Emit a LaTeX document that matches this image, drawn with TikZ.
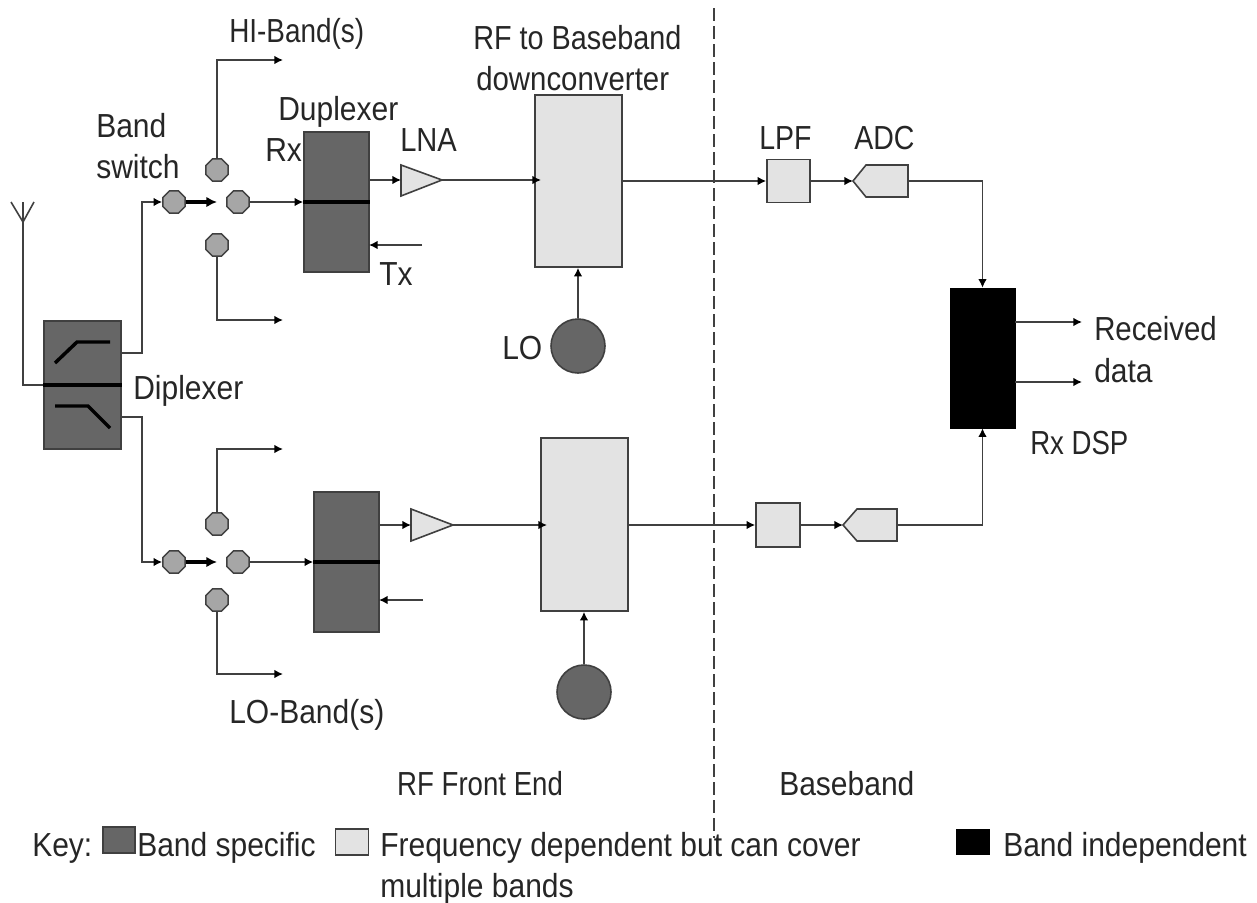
\documentclass[tikz,border=0pt]{standalone}
\usepackage{fontspec}
\setmainfont[FakeStretch=0.9]{Liberation Sans}
\usetikzlibrary{arrows.meta,shapes.geometric}
\definecolor{dk}{gray}{0.40}
\definecolor{lt}{gray}{0.89}
\definecolor{md}{gray}{0.65}
\definecolor{ln}{gray}{0.25}
\tikzset{
 x=0.75pt,y=-0.75pt,
 wire/.style={draw=ln,line width=1.2pt},
 arr/.style={wire,-{Latex[length=6.5pt,width=6.5pt,black]}},
 thickarr/.style={draw=black,line width=2.6pt,-{Latex[length=8pt,width=8pt]}},
 block/.style={draw=ln,line width=1.2pt,inner sep=0pt},
 dkbox/.style={block,fill=dk},
 ltbox/.style={block,fill=lt},
 tri/.style={draw=ln,line width=1.2pt,fill=lt},
 sw/.style={draw=ln,line width=1.1pt,fill=md,regular polygon,regular polygon sides=8,minimum size=18pt,inner sep=0pt},
 mid/.style={draw=black,line width=2.6pt},
 curve/.style={draw=black,line width=2.6pt},
 lo/.style={draw=ln,line width=1.2pt,fill=dk,circle,minimum size=40.5pt,inner sep=0pt},
 lab/.style={font=\fontsize{25}{30}\selectfont,text=black!85,inner sep=0pt,anchor=base west,align=left},
}
\begin{document}
\begin{tikzpicture}
\useasboundingbox (0,0) rectangle (1257,903);
% dashed divider
\coordinate (dt) at (714,8); \coordinate (db) at (714,838);
\draw[draw=ln,line width=1pt,dash pattern=on 10pt off 3.5pt] (dt) -- (db);
% diplexer
\node[dkbox,minimum width=57.75pt,minimum height=96pt] (dip) at (82.5,385) {};
\coordinate (ant) at (23,222);
\coordinate (antL) at (11,202); \coordinate (antR) at (34,202); \coordinate (antM) at (23,202);
\draw[wire] (antL) -- (ant) -- (antR) (antM) -- (ant);
\draw[wire] (ant) |- (dip.west);
\draw[mid] (dip.west) -- (dip.east);
\draw[curve] (55,363) -- (77,342) -- (110,342);
\draw[curve] (55,406) -- (88,406) -- (110,428);
% upper chain
\node[sw] (s1i) at (174,202) {};
\node[sw] (s1o) at (238,202) {};
\node[sw] (s1t) at (217,170) {};
\node[sw] (s1b) at (217,245) {};
\coordinate (s1g) at (217,202);
\coordinate (h1) at (283,60); \coordinate (h2) at (283,320);
\draw[arr] (121,353) -| (142,202) -- (s1i.west);
\draw[thickarr] (s1i.east) -- (s1g);
\draw[arr] (s1t.north) |- (h1);
\draw[arr] (s1b.south) |- (h2);
\node[dkbox,minimum width=48.75pt,minimum height=105pt] (dup1) at (336.5,202) {};
\draw[arr] (s1o.east) -- (dup1.west);
\draw[mid] (dup1.west) -- (dup1.east);
\coordinate (tx1) at (422,245);
\draw[arr] (tx1) -- (369,245);
\coordinate (lna1i) at (401,180); \coordinate (lna1o) at (442,180);
\draw[tri] (401,165) -- (lna1o) -- (401,196) -- cycle;
\draw[arr] (369,180) -- (lna1i);
\node[ltbox,minimum width=65pt,minimum height=129pt] (mix1) at (578.5,181) {};
\coordinate (mix1in) at (541,180);
\draw[arr] (lna1o) -- (mix1in);
\node[lo] (lo1) at (578,346) {};
\draw[arr] (lo1) -- (mix1.south -| lo1);
\node[ltbox,minimum width=32.25pt,minimum height=32.25pt] (lpf1) at (788.5,181) {};
\draw[arr] (lpf1.west -| mix1.east) -- (lpf1.west);
\coordinate (adc1) at (853,181);
\draw[tri] (adc1) -- (866,165) -- (908,165) -- (908,197) -- (866,197) -- cycle;
\draw[arr] (lpf1.east) -- (adc1);
% DSP
\node[draw=black,fill=black,minimum width=48.75pt,minimum height=105pt,inner sep=0pt] (dsp) at (982.5,358) {};
\coordinate (r1) at (1082,322); \coordinate (r2) at (1082,382);
\draw[arr] (908,181) -| (dsp.north);
\draw[arr] (dsp.east |- r1) -- (r1);
\draw[arr] (dsp.east |- r2) -- (r2);
% lower chain
\node[sw] (s2i) at (174,562) {};
\node[sw] (s2o) at (238,562) {};
\node[sw] (s2t) at (217,524) {};
\node[sw] (s2b) at (217,600) {};
\coordinate (s2g) at (217,562);
\coordinate (l1) at (283,449); \coordinate (l2) at (283,674);
\draw[arr] (121,417) -| (142,562) -- (s2i.west);
\draw[thickarr] (s2i.east) -- (s2g);
\draw[arr] (s2t.north) |- (l1);
\draw[arr] (s2b.south) |- (l2);
\node[dkbox,minimum width=48.75pt,minimum height=105pt] (dup2) at (346.5,562) {};
\draw[arr] (s2o.east) -- (dup2.west);
\draw[mid] (dup2.west) -- (dup2.east);
\coordinate (tx2) at (423,600);
\draw[arr] (tx2) -- (379,600);
\coordinate (lna2i) at (411,525); \coordinate (lna2o) at (453,525);
\draw[tri] (411,509) -- (lna2o) -- (411,541) -- cycle;
\draw[arr] (379,525) -- (lna2i);
\node[ltbox,minimum width=65pt,minimum height=129.75pt] (mix2) at (584.5,524.5) {};
\coordinate (mix2in) at (547,525);
\draw[arr] (lna2o) -- (mix2in);
\node[lo] (lo2) at (584,692) {};
\draw[arr] (lo2) -- (mix2.south -| lo2);
\node[ltbox,minimum width=33pt,minimum height=33pt] (lpf2) at (778,525) {};
\draw[arr] (lpf2.west -| mix2.east) -- (lpf2.west);
\coordinate (adc2) at (843,525);
\draw[tri] (adc2) -- (857,509) -- (897,509) -- (897,541) -- (857,541) -- cycle;
\draw[arr] (lpf2.east) -- (adc2);
\draw[arr] (897,525) -| (dsp.south);
% labels
\node[lab,xscale=0.93] (t1) at (229,42) {HI-Band(s)};
\node[lab,xscale=0.96] (t2) at (473,49) {RF to Baseband};
\node[lab,xscale=0.98] (t3) at (476,90) {downconverter};
\node[lab] (t4) at (278,120) {Duplexer};
\node[lab] (t5) at (96,137) {Band};
\node[lab] (t6) at (96,178) {switch};
\node[lab] (t7) at (265,161) {Rx};
\node[lab,xscale=0.97] (t8) at (400,151) {LNA};
\node[lab] (t9) at (379,285) {Tx};
\node[lab] (t10) at (502,359) {LO};
\node[lab] (t11) at (133,399) {Diplexer};
\node[lab,xscale=0.95] (t12) at (759,149) {LPF};
\node[lab,xscale=0.95] (t13) at (854,149) {ADC};
\node[lab,xscale=0.98] (t14) at (1094,340) {Received};
\node[lab] (t15) at (1094,382) {data};
\node[lab,xscale=0.92] (t16) at (1030,454) {Rx DSP};
\node[lab] (t17) at (229,723) {LO-Band(s)};
\node[lab,xscale=0.92] (t18) at (397,795) {RF Front End};
\node[lab] (t19) at (779,795) {Baseband};
% key
\node[lab] (k0) at (32,856) {Key:};
\node[dkbox,minimum width=24pt,minimum height=19.5pt] (k1) at (119,840) {};
\node[lab] (k2) at (137,856) {Band specific};
\node[ltbox,minimum width=25pt,minimum height=19.5pt] (k3) at (352,842) {};
\node[lab] (k4) at (380,856) {Frequency dependent but can cover};
\node[lab] (k5) at (380,897) {multiple bands};
\node[draw=black,fill=black,minimum width=24.75pt,minimum height=19pt,inner sep=0pt] (k6) at (972.5,841.5) {};
\node[lab] (k7) at (1003,856) {Band independent};
\end{tikzpicture}
\end{document}
